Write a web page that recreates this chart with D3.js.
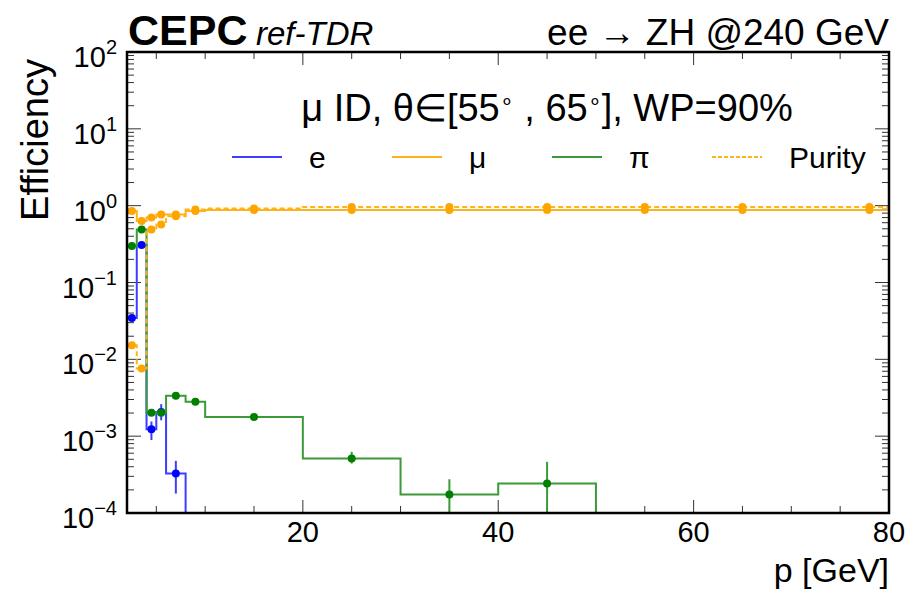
<!DOCTYPE html>
<html>
<head>
<meta charset="utf-8">
<script src="https://cdn.jsdelivr.net/npm/d3@7"></script>
<style>
  body { margin: 0; background: #fff; }
  text { font-family: "Liberation Sans", Arial, sans-serif; fill: #000; }
</style>
</head>
<body>
<svg id="chart" width="917" height="592"></svg>
<script>
// momentum bins [GeV]
var binLo  = [2, 3, 4, 5, 6, 8, 10, 20, 30, 40, 50, 60, 70];
var binHi  = [3, 4, 5, 6, 8, 10, 20, 30, 40, 50, 60, 70, 80];
var binMid = [2.5, 3.5, 4.5, 5.5, 7, 9, 15, 25, 35, 45, 55, 65, 78];

// efficiencies (0 = empty bin)
var effE   = [0.0344, 0.307, 0.00123, 0.00207, 0.000327, 0, 0, 0, 0, 0, 0, 0, 0];
var errEHi = [0.0345, 0.31, 0.00155, 0.00261, 0.000477, 0, 0, 0, 0, 0, 0, 0, 0];
var errELo = [0.0343, 0.304, 0.00089, 0.00161, 0.000179, 0, 0, 0, 0, 0, 0, 0, 0];

var effMu  = [0.85, 0.63, 0.70, 0.77, 0.77, 0.85, 0.88, 0.88, 0.88, 0.88, 0.88, 0.88, 0.88];

var effPi   = [0.298, 0.49, 0.00201, 0.00201, 0.00335, 0.0028, 0.00178, 0.000513, 0.000174, 0.000242, 0, 0, 0];
var errPiHi = [0.30, 0.492, 0.00212, 0.00212, 0.00345, 0.00288, 0.00182, 0.000625, 0.000275, 0.000463, 0, 0, 0];
var errPiLo = [0.296, 0.488, 0.0019, 0.0019, 0.00325, 0.00272, 0.00174, 0.000441, 0.00007, 0.00005, 0, 0, 0];

var purity = [0.0153, 0.0076, 0.49, 0.57, 0.73, 0.89, 0.92, 0.96, 0.96, 0.96, 0.96, 0.96, 0.96];

var yTicks = [-4, -3, -2, -1, 0, 1, 2];
var xTicks = [20, 40, 60, 80];

var series = [
    {name: "e", vals: effE, hi: errEHi, lo: errELo, line: "#3d3dff", mark: "#0000ff", dash: null},
    {name: "\u03bc", vals: effMu, hi: null, lo: null, line: "#ffb31a", mark: "#ffa500", dash: null},
    {name: "\u03c0", vals: effPi, hi: errPiHi, lo: errPiLo, line: "#3a9a3a", mark: "#008000", dash: null},
    {name: "Purity", vals: purity, hi: null, lo: null, line: "#ffb31a", mark: "#ffa500", dash: "5,3"}
];

var padL = 127, padR = 889, padT = 52, padB = 513;
var svg = d3.select("#chart");

var x = d3.scaleLinear().domain([2, 80]).range([padL, padR]);
var y = d3.scaleLog().domain([1e-4, 100]).range([padB, padT]);

svg.append("clipPath").attr("id", "clip")
    .append("rect")
    .attr("x", padL).attr("y", padT)
    .attr("width", padR - padL).attr("height", padB - padT);

// ticks on all four sides
var minorX = d3.range(5, 80, 5).filter(function (d) { return d % 20 !== 0; });
var minorY = [];
for (var e = -4; e < 2; e++) {
    for (var k = 2; k <= 9; k++) minorY.push(k * Math.pow(10, e));
}
var tickG = svg.append("g").attr("stroke", "#333").attr("stroke-width", 1);
xTicks.concat(minorX).forEach(function (d) {
    var len = xTicks.indexOf(d) >= 0 ? 13 : 7;
    tickG.append("line").attr("x1", x(d)).attr("x2", x(d)).attr("y1", padB).attr("y2", padB - len);
    tickG.append("line").attr("x1", x(d)).attr("x2", x(d)).attr("y1", padT).attr("y2", padT + len);
});
yTicks.forEach(function (d) {
    var v = Math.pow(10, d);
    tickG.append("line").attr("x1", padL).attr("x2", padL + 14).attr("y1", y(v)).attr("y2", y(v));
    tickG.append("line").attr("x1", padR).attr("x2", padR - 14).attr("y1", y(v)).attr("y2", y(v));
});
minorY.forEach(function (v) {
    tickG.append("line").attr("x1", padL).attr("x2", padL + 7).attr("y1", y(v)).attr("y2", y(v));
    tickG.append("line").attr("x1", padR).attr("x2", padR - 7).attr("y1", y(v)).attr("y2", y(v));
});

// histograms
var plot = svg.append("g").attr("clip-path", "url(#clip)");
var floorVal = 1e-6;

series.forEach(function (s) {
    var pts = [];
    s.vals.forEach(function (v, i) {
        var vv = v > 0 ? v : floorVal;
        pts.push([x(binLo[i]), y(vv)]);
        pts.push([x(binHi[i]), y(vv)]);
    });
    // stop after the last filled bin
    var last = -1;
    s.vals.forEach(function (v, i) { if (v > 0) last = i; });
    pts = pts.slice(0, 2 * (last + 2));
    plot.append("path")
        .attr("d", d3.line()(pts))
        .attr("fill", "none")
        .attr("stroke", s.line)
        .attr("stroke-width", 2)
        .attr("stroke-dasharray", s.dash);

    if (s.hi) {
        s.vals.forEach(function (v, i) {
            if (v <= 0) return;
            plot.append("line")
                .attr("x1", x(binMid[i])).attr("x2", x(binMid[i]))
                .attr("y1", y(s.hi[i])).attr("y2", y(s.lo[i]))
                .attr("stroke", s.line).attr("stroke-width", 2);
        });
    }
    s.vals.forEach(function (v, i) {
        if (v <= 0) return;
        plot.append("circle")
            .attr("cx", x(binMid[i])).attr("cy", y(v))
            .attr("r", 4)
            .attr("fill", s.mark);
    });
});

// frame
svg.append("rect")
    .attr("x", padL).attr("y", padT)
    .attr("width", padR - padL).attr("height", padB - padT)
    .attr("fill", "none").attr("stroke", "#000").attr("stroke-width", 2.5);

// tick labels
xTicks.forEach(function (d) {
    svg.append("text").attr("x", x(d)).attr("y", 542)
        .attr("text-anchor", "middle").style("font-size", "29px").text(d);
});
yTicks.forEach(function (d) {
    var t = svg.append("text").attr("x", 117).attr("y", y(Math.pow(10, d)) + 15)
        .attr("text-anchor", "end").style("font-size", "29px");
    t.append("tspan").text("10");
    t.append("tspan").attr("dy", -13).style("font-size", "20px")
        .text(d < 0 ? "\u2212" + (-d) : d);
});

// axis titles
svg.append("text").attr("x", padR).attr("y", 582)
    .attr("text-anchor", "end").style("font-size", "34px").text("p [GeV]");
svg.append("text")
    .attr("transform", "translate(48," + 59 + ") rotate(-90)")
    .attr("text-anchor", "end").style("font-size", "38px").text("Efficiency");

// header
svg.append("text").attr("x", 128).attr("y", 45)
    .style("font-size", "43px").style("font-weight", "bold").text("CEPC");
svg.append("text").attr("x", 256).attr("y", 45)
    .style("font-size", "33px").style("font-style", "italic").text("ref-TDR");
svg.append("text").attr("x", padR).attr("y", 45)
    .attr("text-anchor", "end").style("font-size", "37px").text("ee \u2192 ZH @240 GeV");

// title
var title = svg.append("text").attr("x", 547).attr("y", 121)
    .attr("text-anchor", "middle").style("font-size", "38px");
title.append("tspan").text("\u03bc ID, \u03b8\u2208[55");
title.append("tspan").attr("dy", -13).style("font-size", "22px").text("\u2218");
title.append("tspan").attr("dy", 13).text(" , 65");
title.append("tspan").attr("dy", -13).style("font-size", "22px").text("\u2218");
title.append("tspan").attr("dy", 13).text("], WP=90%");

// legend
var legend = svg.append("g");
series.forEach(function (s, i) {
    var lx = 232 + i * 160;
    legend.append("line")
        .attr("x1", lx).attr("x2", lx + 50).attr("y1", 157).attr("y2", 157)
        .attr("stroke", s.line).attr("stroke-width", 2)
        .attr("stroke-dasharray", s.dash ? "4,2" : null);
    legend.append("text").attr("x", lx + 77).attr("y", 168)
        .style("font-size", "30px").text(s.name);
});
</script>
</body>
</html>
